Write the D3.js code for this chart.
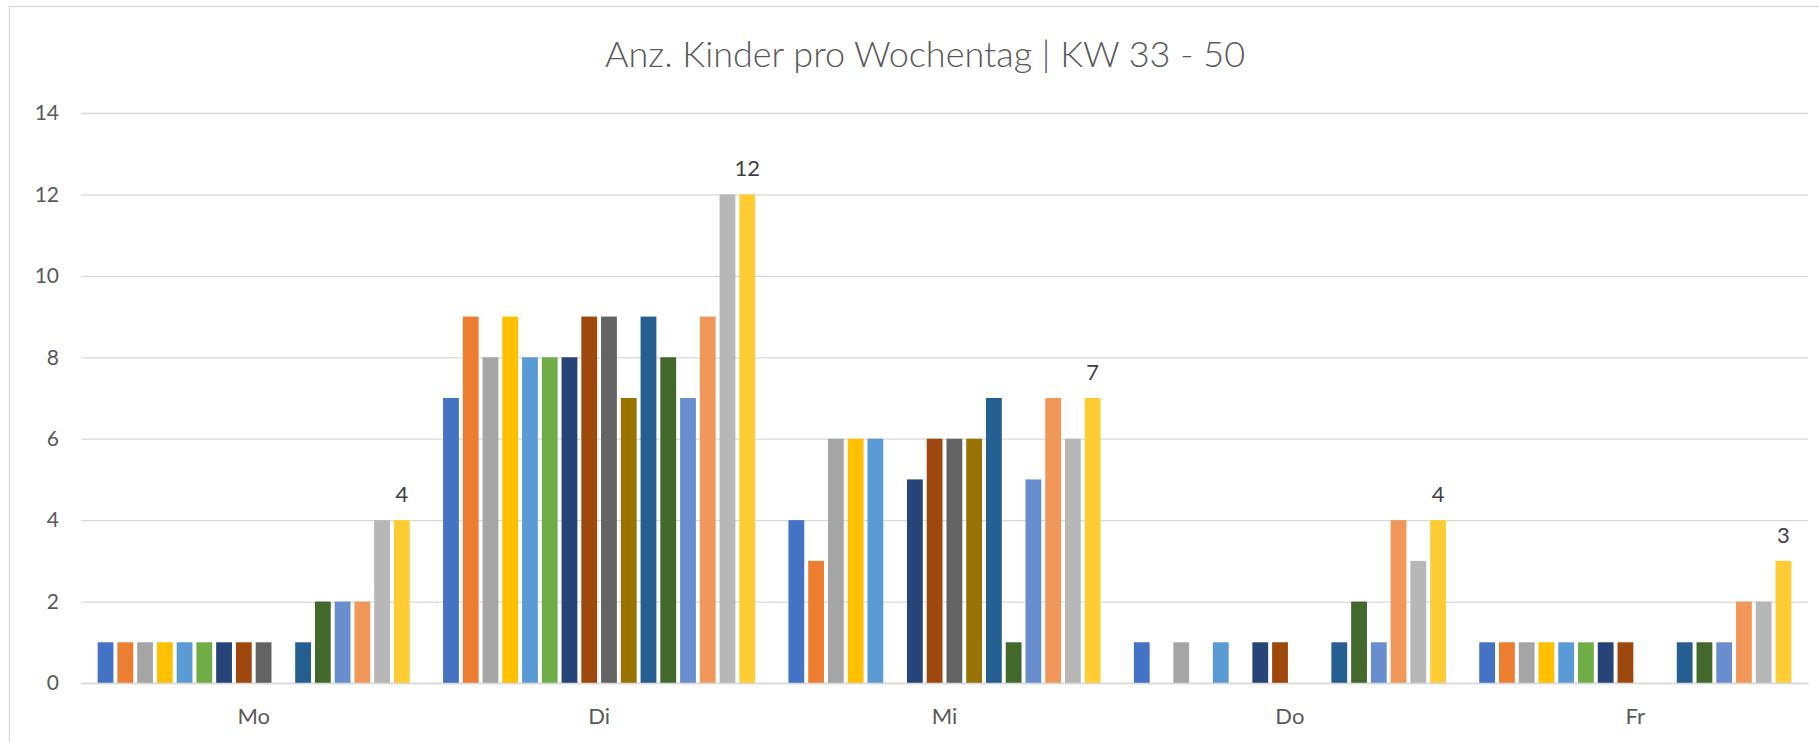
<!DOCTYPE html>
<html>
<head>
<meta charset="utf-8">
<script src="https://cdn.jsdelivr.net/npm/d3@7"></script>
<style>
  html, body { margin: 0; padding: 0; background: #fff; }
  svg { display: block; font-family: Lato, "Open Sans", sans-serif; }
</style>
</head>
<body>
<svg id="chart" width="1819" height="742"></svg>
<script>
// Wochentage
const days = ['Mo', 'Di', 'Mi', 'Do', 'Fr']

// 16 Serien, je ein Wert pro Wochentag (0 = keine Säule)
const series = [
  [1, 7, 4, 1, 1],
  [1, 9, 3, 0, 1],
  [1, 8, 6, 1, 1],
  [1, 9, 6, 0, 1],
  [1, 8, 6, 1, 1],
  [1, 8, 0, 0, 1],
  [1, 8, 5, 1, 1],
  [1, 9, 6, 1, 1],
  [1, 9, 6, 0, 0],
  [0, 7, 6, 0, 0],
  [1, 9, 7, 1, 1],
  [2, 8, 1, 2, 1],
  [2, 7, 5, 1, 1],
  [2, 9, 7, 4, 2],
  [4, 12, 6, 3, 2],
  [4, 12, 7, 4, 3]
]

const colors = ['#4472C4', '#ED7D31', '#A5A5A5', '#FFC000', '#5B9BD5', '#70AD47',
  '#264478', '#9E480E', '#636363', '#997300', '#255E91', '#43682B',
  '#698ED0', '#F1975A', '#B7B7B7', '#FFCD33']

const yTicks = [0, 2, 4, 6, 8, 10, 12, 14]
const title = 'Anz. Kinder pro Wochentag | KW 33 - 50'

const W = 1819, H = 742
const margin = { left: 81, right: 11, top: 113, bottom: 59 }
const textColor = '#595959'
const gridColor = '#D9D9D9'

const svg = d3.select('#chart')

// Rahmen des Diagrammbereichs
svg.append('rect')
  .attr('x', 9.5).attr('y', 6.5)
  .attr('width', 2000).attr('height', 1000)
  .style('fill', 'none')
  .style('stroke', gridColor)
  .style('stroke-width', 1.3)

svg.append('text')
  .attr('x', 925).attr('y', 67)
  .attr('text-anchor', 'middle')
  .style('font-size', '36px')
  .style('font-weight', 300)
  .style('fill', textColor)
  .text(title)

const x0 = d3.scaleBand()
  .domain(days)
  .range([margin.left, W - margin.right])
  .paddingInner(0.085)
  .paddingOuter(0.0425)

const x1 = d3.scaleBand()
  .domain(d3.range(series.length))
  .range([0, x0.bandwidth()])
  .paddingInner(0.2)
  .paddingOuter(0.1)

const y = d3.scaleLinear()
  .domain([0, 14])
  .range([H - margin.bottom, margin.top])

// Gitternetz + Y-Achse
const yAxis = svg.append('g')
  .attr('transform', 'translate(' + margin.left + ',0)')
  .call(d3.axisLeft(y).tickValues(yTicks).tickSize(-(W - margin.left - margin.right)).tickPadding(22))
yAxis.select('.domain').remove()
yAxis.selectAll('.tick line')
  .style('stroke', gridColor)
  .style('stroke-width', 1.3)
yAxis.selectAll('.tick text')
  .style('font-size', '21px')
  .style('fill', textColor)
  .style('font-family', 'Lato, sans-serif')

// Säulen
const groups = svg.append('g').selectAll('g')
  .data(days)
  .enter().append('g')
    .attr('transform', (d) => 'translate(' + x0(d) + ',0)')

groups.selectAll('rect')
  .data((d, di) => series.map((s, si) => ({ si: si, v: s[di] })))
  .enter().append('rect')
    .attr('x', (d) => x1(d.si))
    .attr('y', (d) => y(d.v))
    .attr('width', x1.bandwidth())
    .attr('height', (d) => y(0) - y(d.v))
    .style('fill', (d) => colors[d.si])
    .style('display', (d) => d.v === 0 ? 'none' : null)

// Datenbeschriftung nur für die letzte Serie
const last = series[series.length - 1]
svg.append('g').selectAll('text')
  .data(days)
  .enter().append('text')
    .attr('x', (d) => x0(d) + x1(series.length - 1) + x1.bandwidth() / 2)
    .attr('y', (d, i) => y(last[i]) - 18)
    .attr('text-anchor', 'middle')
    .style('font-size', '22px')
    .style('fill', '#404040')
    .text((d, i) => last[i])

// X-Achse
const xAxis = svg.append('g')
  .attr('transform', 'translate(0,' + y(0) + ')')
  .call(d3.axisBottom(x0).tickSize(0).tickPadding(25))
xAxis.select('.domain')
  .style('stroke', gridColor)
  .style('stroke-width', 1.3)
xAxis.selectAll('.tick text')
  .style('font-size', '22px')
  .style('fill', textColor)
  .style('font-family', 'Lato, sans-serif')
</script>
</body>
</html>
